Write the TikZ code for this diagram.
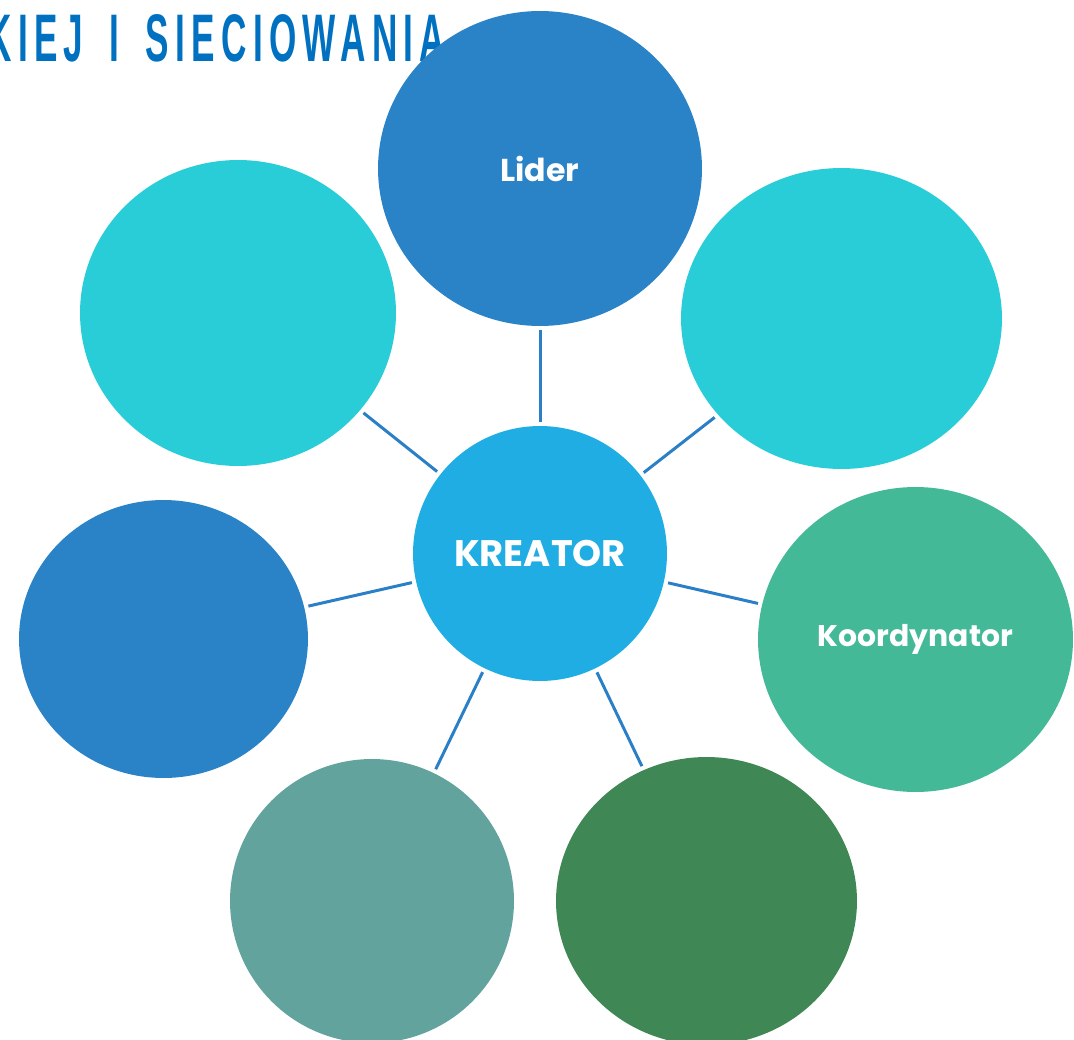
\documentclass[tikz,border=0pt]{standalone}
\usepackage{fontspec}
\usepackage{graphicx}
\usepackage{xcolor}
\usepackage{tikz}
\usetikzlibrary{shapes.geometric}
\newfontfamily\lblfont{Poppins}
\newfontfamily\ttlfont[LetterSpace=18]{Liberation Sans}
\definecolor{ttlblue}{HTML}{0070C0}
\definecolor{darkblue}{HTML}{2A83C7}
\definecolor{cyanbub}{HTML}{29CDD8}
\definecolor{midblue}{HTML}{1FADE3}
\definecolor{koorgreen}{HTML}{44B997}
\definecolor{greyteal}{HTML}{63A39E}
\definecolor{darkgreen}{HTML}{3F8855}
\definecolor{linkblue}{HTML}{2A7FC6}

\begin{document}
\begin{tikzpicture}[
  x=0.02cm, y=-0.02cm,
  bubble/.style={ellipse, inner sep=0pt, outer sep=0pt,
                 text=white, font=\lblfont\bfseries},
  link/.style  ={draw=linkblue, line width=1.7pt,
                 shorten <=2.5pt, shorten >=2.5pt}
]
\useasboundingbox (0,0) rectangle (1074,1040);
\clip (0,0) rectangle (1074,1040);

%% --- Title (cut at the left edge) ----------------------------
\node[anchor=base west, inner sep=0pt, text=ttlblue] (title) at (-14,62)
     {\resizebox{9.18cm}{0.94cm}{\ttlfont\bfseries KIEJ\hspace{0.75em}I\hspace{0.75em}SIECIOWANIA}};

%% --- Outer bubbles -------------------------------------------
\node[bubble, fill=darkblue, minimum width=6.48cm, minimum height=6.30cm,
      font=\lblfont\bfseries\fontsize{18}{20}\selectfont] (lider) at (540,168.5)
     {Lider};
\node[bubble, fill=cyanbub, minimum width=6.32cm, minimum height=6.12cm]
     (topleft) at (238,313) {};
\node[bubble, fill=cyanbub, minimum width=6.42cm, minimum height=6.02cm]
     (topright) at (841.5,318.5) {};
\node[bubble, fill=darkblue, minimum width=5.78cm, minimum height=5.56cm]
     (left) at (163.5,639) {};
\node[bubble, fill=koorgreen, minimum width=6.30cm, minimum height=6.10cm,
      font=\lblfont\bfseries\fontsize{17}{19}\selectfont] (koordynator) at (915.5,639.5)
     {Koordynator};
\node[bubble, fill=greyteal, minimum width=5.68cm, minimum height=5.68cm]
     (botleft) at (372,901) {};
\node[bubble, fill=darkgreen, minimum width=6.02cm, minimum height=5.76cm]
     (botright) at (706.5,901) {};

%% --- Centre --------------------------------------------------
\node[bubble, fill=midblue, minimum width=5.08cm, minimum height=5.10cm,
      font=\lblfont\bfseries\fontsize{21}{24}\selectfont] (kreator) at (540,553.5)
     {KREATOR};

%% --- Links ---------------------------------------------------
\foreach \b in {lider,topleft,topright,left,koordynator,botleft,botright}
  \draw[link] (\b) -- (kreator);

\end{tikzpicture}
\end{document}
